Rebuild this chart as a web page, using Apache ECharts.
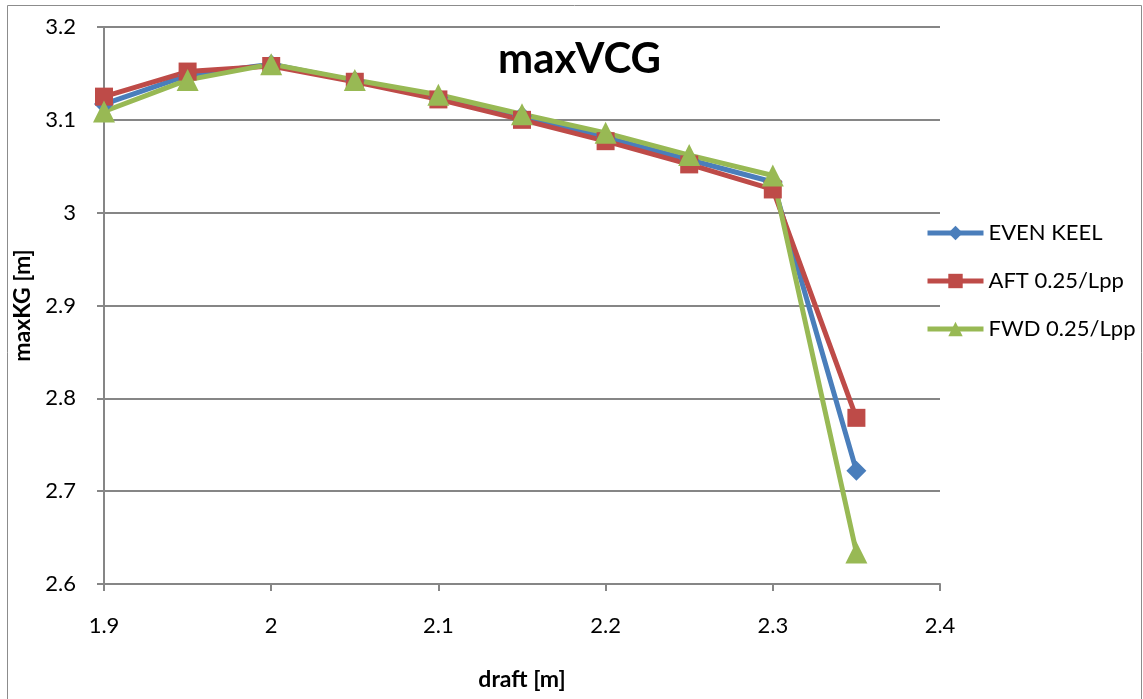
<!DOCTYPE html>
<html>
<head>
<meta charset="utf-8">
<script src="https://cdn.jsdelivr.net/npm/echarts@6/dist/echarts.min.js"></script>
<style>
  html, body { margin: 0; padding: 0; background: #fff; }
  #chart { width: 1143px; height: 699px; }
</style>
</head>
<body>
<div id="chart"></div>
<script>
// drafts [m]
const drafts = [1.9, 1.95, 2.0, 2.05, 2.1, 2.15, 2.2, 2.25, 2.3, 2.35]
// maxKG [m] per trim condition
const evenKeel = [3.117, 3.148, 3.160, 3.142, 3.124, 3.104, 3.081, 3.057, 3.033, 2.722]
const aftTrim = [3.125, 3.152, 3.158, 3.141, 3.122, 3.100, 3.077, 3.052, 3.025, 2.779]
const fwdTrim = [3.109, 3.143, 3.160, 3.143, 3.127, 3.106, 3.086, 3.062, 3.040, 2.634]
const seriesNames = ['EVEN KEEL', 'AFT 0.25/Lpp', 'FWD 0.25/Lpp']

const font = 'Lato, "Open Sans", sans-serif'
const pair = arr => drafts.map((d, i) => [d, arr[i]])

const option = {
  animation: false,
  title: {
    text: 'maxVCG',
    left: 493,
    top: 33,
    textStyle: { fontFamily: font, fontSize: 42, fontWeight: 'bold', color: '#000' }
  },
  graphic: [{
    type: 'rect',
    shape: { x: 7.5, y: 5.5, width: 1134, height: 700 },
    style: { fill: 'none', stroke: '#8c8c8c', lineWidth: 1 },
    silent: true
  }],
  legend: {
    orient: 'vertical',
    left: 925,
    top: 222,
    padding: 0,
    itemGap: 26,
    itemWidth: 56,
    itemHeight: 18,
    lineStyle: { width: 5 },
    textStyle: { fontFamily: font, fontSize: 22, color: '#000' },
    data: seriesNames
  },
  grid: { left: 104, right: 203, top: 27, bottom: 115 },
  xAxis: {
    type: 'value',
    min: 1.9,
    max: 2.4,
    interval: 0.1,
    name: 'draft [m]',
    nameLocation: 'middle',
    nameGap: 84,
    nameTextStyle: { fontFamily: font, fontSize: 23, fontWeight: 'bold', color: '#000' },
    axisLine: { lineStyle: { color: '#868686', width: 2 } },
    axisTick: { show: true, inside: false, length: 7, lineStyle: { color: '#868686', width: 2 } },
    axisLabel: { fontFamily: font, fontSize: 22, color: '#000', margin: 31 },
    splitLine: { show: false }
  },
  yAxis: {
    type: 'value',
    min: 2.6,
    max: 3.2,
    interval: 0.1,
    name: 'maxKG [m]',
    nameLocation: 'middle',
    nameGap: 62,
    nameTextStyle: { fontFamily: font, fontSize: 23, fontWeight: 'bold', color: '#000' },
    axisLine: { show: true, lineStyle: { color: '#868686', width: 2 } },
    axisTick: { show: true, inside: false, length: 7, lineStyle: { color: '#868686', width: 2 } },
    axisLabel: { fontFamily: font, fontSize: 22, color: '#000', margin: 28 },
    splitLine: { show: true, lineStyle: { color: '#868686', width: 2 } }
  },
  series: [
    {
      name: seriesNames[0],
      type: 'line',
      data: pair(evenKeel),
      symbol: 'diamond',
      symbolSize: 20,
      lineStyle: { color: '#4a7ebb', width: 5 },
      itemStyle: { color: '#4a7ebb' }
    },
    {
      name: seriesNames[1],
      type: 'line',
      data: pair(aftTrim),
      symbol: 'rect',
      symbolSize: 18,
      lineStyle: { color: '#be4b48', width: 5 },
      itemStyle: { color: '#be4b48' }
    },
    {
      name: seriesNames[2],
      type: 'line',
      data: pair(fwdTrim),
      symbol: 'triangle',
      symbolSize: 22,
      lineStyle: { color: '#98b954', width: 5 },
      itemStyle: { color: '#98b954' }
    }
  ]
}

const chart = echarts.init(document.getElementById('chart'))
chart.setOption(option)
window.addEventListener('resize', () => chart.resize())
</script>
</body>
</html>
